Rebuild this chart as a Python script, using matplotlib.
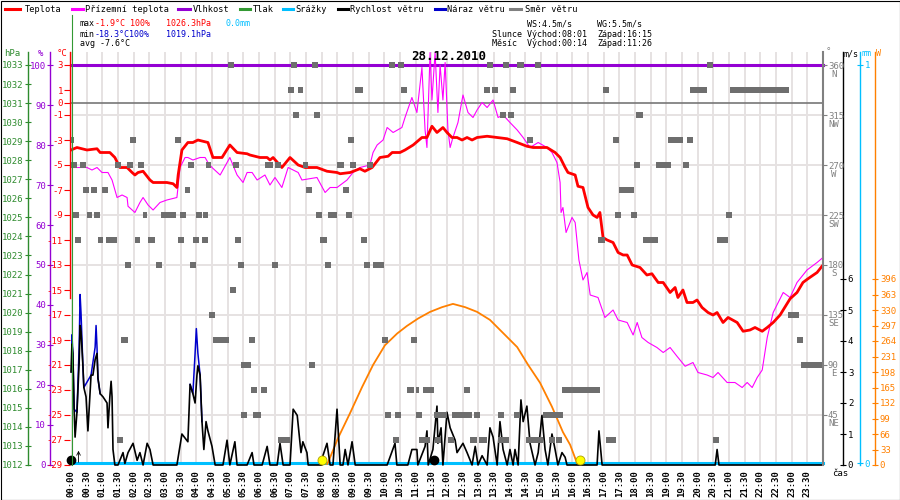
import matplotlib
matplotlib.use("Agg")
import matplotlib.pyplot as plt
import matplotlib.transforms as mtransforms
from matplotlib.lines import Line2D
from matplotlib.patches import Rectangle
import numpy as np

plt.rcParams['font.family'] = ['DejaVu Sans Mono', 'DejaVu Sans']
plt.rcParams['font.size'] = 6.5

# ---- data (time in hours) ----
temp_t = [0.00, 0.19, 0.51, 0.83, 0.93, 1.24, 1.40, 1.56, 1.79, 1.95,
          2.04, 2.14, 2.30, 2.52, 2.62, 3.06, 3.26, 3.38, 3.42, 3.54,
          3.73, 3.89, 4.05, 4.37, 4.53, 4.82, 5.07, 5.30, 5.62, 5.71,
          6.03, 6.26, 6.35, 6.45, 6.73, 6.99, 7.25, 7.47, 7.85, 8.17,
          8.49, 8.59, 8.91, 9.22, 9.38, 9.61, 9.86, 10.12, 10.25, 10.50,
          10.66, 10.92, 11.20, 11.36, 11.52, 11.68, 11.87, 12.00, 12.16, 12.32,
          12.48, 12.64, 12.80, 12.96, 13.28, 13.60, 13.92, 14.24, 14.55, 14.75,
          15.19, 15.45, 15.61, 15.77, 15.86, 16.09, 16.18, 16.34, 16.50, 16.66,
          16.79, 16.88, 16.98, 17.11, 17.30, 17.46, 17.62, 17.75, 17.91, 18.16,
          18.38, 18.54, 18.74, 18.90, 19.12, 19.28, 19.37, 19.53, 19.66, 19.85,
          19.98, 20.14, 20.33, 20.49, 20.62, 20.81, 20.97, 21.26, 21.45, 21.67,
          21.83, 22.06, 22.22, 22.41, 22.63, 22.95, 23.17, 23.36, 23.52, 23.81,
          24.00]
temp_c = [-3.8, -3.6, -3.8, -3.7, -4.0, -4.0, -4.4, -5.2, -5.2, -5.6,
          -5.8, -5.6, -5.5, -6.2, -6.4, -6.4, -6.5, -6.8, -5.8, -3.8,
          -3.2, -3.2, -3.0, -3.2, -4.4, -4.4, -3.4, -4.0, -4.1, -4.2,
          -4.4, -4.4, -4.6, -4.4, -5.2, -4.4, -5.0, -5.2, -5.2, -5.5,
          -5.6, -5.7, -5.6, -5.3, -5.5, -5.2, -4.4, -4.3, -4.0, -4.0,
          -3.8, -3.4, -2.8, -2.8, -1.9, -2.4, -2.0, -2.4, -2.8, -2.8,
          -3.0, -2.8, -3.0, -2.8, -2.7, -2.8, -2.9, -3.2, -3.5, -3.6,
          -3.6, -4.0, -4.4, -5.2, -5.6, -5.8, -6.7, -6.8, -8.4, -9.0,
          -9.2, -8.8, -10.8, -11.0, -11.2, -12.0, -12.2, -12.2, -13.0, -13.2,
          -13.8, -13.7, -14.4, -14.4, -15.2, -14.8, -15.6, -15.0, -16.0, -16.0,
          -15.8, -16.4, -16.8, -17.0, -16.8, -17.6, -17.2, -17.6, -18.3, -18.2,
          -18.0, -18.3, -18.0, -17.6, -17.0, -15.7, -15.2, -14.4, -14.1, -13.6,
          -13.0]

ground_t = [0.00, 0.19, 0.51, 0.67, 0.83, 0.99, 1.09, 1.18, 1.31, 1.47,
            1.63, 1.79, 1.82, 2.04, 2.20, 2.30, 2.46, 2.62, 2.84, 3.06,
            3.38, 3.48, 3.64, 3.73, 3.89, 4.12, 4.28, 4.37, 4.50, 4.76,
            5.07, 5.30, 5.49, 5.62, 5.78, 5.94, 6.19, 6.35, 6.51, 6.73,
            6.93, 7.25, 7.37, 7.85, 8.11, 8.27, 8.49, 8.81, 9.00, 9.22,
            9.54, 9.64, 9.77, 9.96, 10.09, 10.28, 10.56, 10.66, 10.88, 11.04,
            11.20, 11.30, 11.36, 11.46, 11.52, 11.62, 11.71, 11.78, 11.87, 11.94,
            12.03, 12.10, 12.19, 12.35, 12.51, 12.67, 12.83, 12.96, 13.12, 13.28,
            13.47, 13.63, 13.79, 14.01, 14.24, 14.43, 14.65, 14.91, 15.19, 15.35,
            15.51, 15.61, 15.64, 15.70, 15.80, 15.99, 16.09, 16.21, 16.34, 16.47,
            16.57, 16.82, 17.04, 17.30, 17.46, 17.75, 17.94, 18.07, 18.22, 18.42,
            18.70, 18.90, 19.12, 19.34, 19.60, 19.85, 20.01, 20.30, 20.49, 20.65,
            20.94, 21.19, 21.42, 21.58, 21.74, 21.90, 22.06, 22.22, 22.41, 22.73,
            22.95, 23.17, 23.49, 23.81, 24.00]
ground_c = [-5.2, -5.2, -5.2, -5.4, -5.2, -5.6, -5.6, -5.6, -6.2, -7.6,
            -7.4, -7.6, -8.3, -8.8, -8.0, -7.6, -8.2, -8.6, -8.0, -7.8,
            -7.6, -5.2, -4.4, -4.4, -4.6, -4.4, -4.4, -4.8, -5.2, -5.8,
            -4.4, -5.8, -6.4, -5.6, -5.6, -6.2, -5.8, -6.6, -6.0, -6.8,
            -5.2, -5.6, -6.2, -6.0, -7.2, -6.8, -6.8, -6.2, -5.6, -5.2,
            -5.0, -4.0, -3.4, -3.0, -2.0, -2.4, -2.0, -1.2, 0.4, -0.8,
            2.8, -2.2, -3.6, 4.0, 0.2, 4.0, -0.8, 3.0, 0.2, 3.2,
            -2.2, -3.6, -2.8, -1.6, 0.6, -0.8, -1.2, -0.6, 0.0, -0.4,
            0.2, -1.2, -1.0, -1.6, -2.2, -2.8, -3.6, -3.2, -3.6, -4.0,
            -4.8, -6.4, -8.8, -8.4, -10.4, -9.2, -9.6, -12.6, -14.2, -13.6,
            -15.4, -15.6, -17.2, -16.6, -17.4, -17.6, -18.6, -17.6, -18.8, -19.2,
            -19.6, -20.0, -19.6, -20.3, -21.1, -20.8, -21.6, -21.8, -22.0, -21.6,
            -22.4, -22.4, -22.8, -22.4, -22.8, -22.0, -21.4, -18.8, -16.8, -15.2,
            -15.6, -14.4, -13.4, -12.8, -12.4]

humidity_t = [0.0, 24.0]
humidity_pct = [100, 100]
rain_t = [0.0, 24.0]
rain_mm = [0.0, 0.0]

wind_t = [0.00, 0.03, 0.06, 0.10, 0.13, 0.19, 0.22, 0.26, 0.29, 0.32,
          0.38, 0.41, 0.48, 0.54, 0.64, 0.70, 0.77, 0.83, 0.86, 0.93,
          1.02, 1.15, 1.18, 1.24, 1.28, 1.31, 1.34, 1.40, 1.50, 1.66,
          1.72, 1.82, 1.98, 2.11, 2.20, 2.30, 2.43, 2.52, 2.62, 3.38,
          3.54, 3.73, 3.80, 3.89, 3.96, 4.02, 4.05, 4.12, 4.18, 4.24,
          4.31, 4.37, 4.50, 4.60, 4.85, 4.98, 5.07, 5.23, 5.30, 5.62,
          5.78, 5.84, 6.10, 6.26, 6.35, 6.58, 6.67, 6.77, 6.99, 7.09,
          7.22, 7.34, 7.40, 7.53, 7.57, 8.01, 8.04, 8.17, 8.27, 8.36,
          8.49, 8.59, 8.68, 8.75, 8.84, 8.97, 9.07, 10.09, 10.18, 10.34,
          10.40, 10.75, 10.88, 11.04, 11.07, 11.30, 11.36, 11.40, 11.55, 11.68,
          11.71, 11.81, 11.87, 12.00, 12.10, 12.26, 12.32, 12.51, 12.64, 12.80,
          12.90, 12.99, 13.12, 13.28, 13.37, 13.47, 13.60, 13.69, 13.79, 13.92,
          14.01, 14.11, 14.17, 14.27, 14.36, 14.43, 14.55, 14.65, 14.81, 14.91,
          15.03, 15.13, 15.22, 15.35, 15.45, 15.54, 15.67, 15.77, 15.83, 16.79,
          16.85, 16.95, 20.56, 20.62, 20.68, 24.00]
wind_ms = [3.0, 3.9, 3.6, 1.8, 0.9, 1.7, 2.4, 3.3, 4.5, 4.3,
           3.2, 2.5, 2.2, 1.1, 2.9, 2.9, 3.4, 3.6, 2.8, 2.3,
           2.2, 2.0, 1.2, 2.2, 2.7, 2.2, 0.5, 0.0, 0.0, 0.4,
           0.05, 0.4, 0.7, 0.15, 0.4, 0.0, 0.7, 0.5, 0.0, 0.0,
           1.0, 0.75, 2.6, 2.3, 2.0, 2.9, 3.2, 2.9, 1.4, 0.5,
           1.4, 1.1, 0.6, 0.0, 0.0, 0.8, 0.0, 0.75, 0.0, 0.0,
           0.4, 0.0, 0.0, 0.6, 0.0, 0.0, 0.7, 0.0, 0.0, 1.8,
           1.6, 0.4, 0.75, 0.4, 0.0, 0.0, 0.3, 0.7, 0.0, 0.0,
           1.8, 0.0, 0.0, 0.5, 0.0, 0.75, 0.0, 0.0, 0.25, 0.7,
           0.0, 0.0, 0.5, 0.5, 0.0, 0.6, 1.1, 0.0, 0.5, 1.9,
           0.7, 1.2, 0.0, 1.7, 1.2, 0.8, 0.4, 0.7, 0.4, 0.0,
           0.6, 0.0, 0.3, 0.0, 1.2, 0.9, 0.0, 1.4, 0.5, 0.0,
           0.5, 0.0, 0.5, 0.0, 2.1, 1.4, 1.9, 0.7, 0.0, 0.4,
           1.6, 0.5, 0.0, 1.0, 0.5, 0.0, 0.4, 0.25, 0.0, 0.0,
           1.1, 0.0, 0.0, 0.5, 0.0, 0.0]

gust_t = [0.00, 0.03, 0.06, 0.10, 0.19, 0.26, 0.29, 0.32, 0.38, 0.41,
          0.64, 0.77, 0.80, 0.83, 0.86, 0.93, np.nan,
          3.80, 3.89, 3.96, 4.00, 4.05, 4.09, 4.12, 4.18]
gust_ms = [3.0, 4.2, 3.6, 1.8, 1.7, 3.8, 5.5, 4.9, 3.2, 2.5,
           2.9, 3.8, 4.5, 3.8, 2.8, 2.3, np.nan,
           2.6, 2.3, 3.6, 4.4, 3.6, 3.2, 2.9, 1.4]

sun_t = [8.17, 8.52, 8.91, 9.29, 9.64, 10.02, 10.41, 10.72, 11.08, 11.46,
         11.84, 12.19, 12.58, 12.96, 13.37, 13.79, 14.24, 14.59, 14.97, 15.35,
         15.70, 15.93, 16.15, 16.28]
sun_w = [0, 57, 111, 166, 213, 255, 280, 296, 312, 326,
         336, 343, 336, 326, 309, 281, 251, 213, 175, 124,
         70, 43, 4, 0]
sun_events = [8.02, 16.25]
moon_events = [0.0, 11.6]

# wind direction: runs of samples (start h, end h) per direction
dir_levels = [360, 337.5, 315, 292.5, 270, 247.5, 225, 202.5, 180, 157.5,
              135, 112.5, 90, 67.5, 45, 22.5]
dir_runs = [
    [(5.01, 5.20), (7.02, 7.21), (7.69, 7.89), (10.15, 10.34), (10.44, 10.63),
     (13.28, 13.47), (13.79, 13.98), (14.24, 14.46), (14.81, 15.00), (20.30, 20.49)],
    [(6.93, 7.12), (7.25, 7.41), (9.06, 9.32), (10.53, 10.72), (13.18, 13.37),
     (13.44, 13.63), (14.01, 14.20), (16.98, 17.17), (19.76, 20.30), (21.03, 22.92)],
    [(7.09, 7.28), (7.76, 7.95), (13.69, 13.88), (13.95, 14.14), (18.03, 18.26)],
    [(0.0, 0.10), (1.88, 2.07), (3.32, 3.51), (8.84, 9.03), (14.55, 14.75),
     (17.30, 17.49), (19.06, 19.53), (19.66, 19.85)],
    [(0.0, 0.19), (0.29, 0.48), (1.40, 1.60), (1.79, 1.98), (2.14, 2.33),
     (3.73, 3.93), (4.31, 4.47), (5.17, 5.36), (6.19, 6.45), (6.51, 6.70),
     (7.41, 7.56), (8.49, 8.71), (8.91, 9.10), (9.45, 9.64), (17.97, 18.16),
     (18.67, 19.15), (19.53, 19.73)],
    [(0.38, 0.57), (0.64, 0.83), (0.99, 1.18), (3.64, 3.80), (7.50, 7.69),
     (8.68, 8.87), (17.49, 17.97)],
    [(0.06, 0.26), (0.51, 0.67), (0.73, 0.93), (2.30, 2.43), (2.87, 3.35),
     (3.48, 3.67), (3.99, 4.18), (4.21, 4.37), (7.82, 8.01), (8.20, 8.49),
     (8.78, 8.97), (17.36, 17.55), (17.87, 18.07), (20.91, 21.10)],
    [(0.13, 0.32), (0.86, 1.02), (1.12, 1.47), (2.04, 2.20), (2.46, 2.68),
     (3.42, 3.61), (3.89, 4.09), (4.18, 4.37), (5.23, 5.43), (7.95, 8.17),
     (9.26, 9.45), (16.82, 17.04), (18.26, 18.74), (20.62, 20.97)],
    [(1.72, 1.92), (2.71, 2.90), (3.80, 3.99), (5.33, 5.52), (6.42, 6.61),
     (8.11, 8.30), (9.35, 9.54), (9.64, 9.99)],
    [(5.07, 5.27)],
    [(4.40, 4.60), (22.89, 23.24)],
    [(1.60, 1.82), (4.53, 5.04), (5.68, 5.87), (9.93, 10.12), (10.85, 11.04),
     (23.17, 23.36)],
    [(5.43, 5.75), (7.60, 7.79), (23.30, 24.0)],
    [(5.75, 5.94), (6.06, 6.26), (10.72, 10.95), (11.01, 11.11), (11.24, 11.59),
     (12.54, 12.74), (15.67, 16.88)],
    [(5.43, 5.62), (5.81, 6.06), (10.02, 10.21), (10.34, 10.53), (11.01, 11.20),
     (11.59, 12.00), (12.16, 12.80), (12.86, 13.05), (13.63, 13.82), (14.14, 14.33),
     (15.07, 15.70)],
    [(1.47, 1.66), (6.61, 6.99), (10.28, 10.47), (11.11, 11.46), (11.62, 11.81),
     (12.03, 12.22), (12.74, 12.96), (13.02, 13.28), (13.63, 13.98), (14.52, 15.07),
     (15.26, 15.45), (15.48, 15.67), (17.08, 17.40), (20.49, 20.68)],
]
compass = ['N', 'NW', 'W', 'SW', 'S', 'SE', 'E', 'NE']
time_labels = ['%02d:%02d' % (h, m) for h in range(24) for m in (0, 30)]

# ---- colours ----
RED = '#ff0000'
MAGENTA = '#ff00ff'
PURPLE = '#9400d3'
GREEN = '#2e8b2e'
CYAN = '#00bfff'
BLUE = '#0000cc'
GRAY = '#6e6e6e'
ORANGE = '#ff8000'

# ---- layout in pixels ----
W, H = 900, 500
X0, X1, YT, YB = 71, 823, 52, 465
fig = plt.figure(figsize=(9, 5), dpi=100)
rect = [X0 / W, 1 - YB / H, (X1 - X0) / W, (YB - YT) / H]
PLOT_H = YB - YT


def fx(x):
    return x / W


def fy(y):
    return 1 - y / H


def spine_pos(px):
    return (px - X0) / (X1 - X0)


def only_spine(a, side, px, color, lw=1.0):
    for s in a.spines.values():
        s.set_visible(False)
    a.spines[side].set_visible(True)
    a.spines[side].set_position(('axes', spine_pos(px)))
    a.spines[side].set_color(color)
    a.spines[side].set_linewidth(lw)
    a.patch.set_visible(False)


# base axes: grid + time labels
base = fig.add_axes(rect)
base.set_xlim(0, 24)
base.set_ylim(0, 360 + 13 * 0.9)
for s in base.spines.values():
    s.set_visible(False)
base.set_xticks(np.arange(0, 24, 0.5))
base.set_xticklabels(time_labels)
base.set_yticks(np.arange(45, 361, 45))
base.grid(True, color='#e6e2e2', linewidth=1.4)
base.tick_params(axis='x', length=0, pad=4, labelrotation=90, labelsize=6.5)
base.tick_params(axis='y', length=0, labelleft=False, labelright=False)
for lbl in base.get_xticklabels():
    lbl.set_fontweight('bold')

# pressure axis (no data line drawn)
ax_p = base.twinx()
ax_p.set_ylim(1012, 1012 + PLOT_H / 19.05)
only_spine(ax_p, 'left', 28, GREEN)
ax_p.yaxis.set_ticks_position('left')
ax_p.set_yticks(range(1012, 1034))
ax_p.tick_params(axis='y', colors=GREEN, direction='inout', length=4, pad=1)

# humidity
ax_h = base.twinx()
ax_h.set_ylim(0, 100 + 13 / 4.0)
only_spine(ax_h, 'left', 50, PURPLE)
ax_h.yaxis.set_ticks_position('left')
ax_h.set_yticks(range(0, 101, 10))
ax_h.tick_params(axis='y', colors=PURPLE, direction='inout', length=4, pad=1)
ax_h.plot(humidity_t, humidity_pct, color=PURPLE, lw=2.2, clip_on=False)

# temperature
ax_t = base.twinx()
ax_t.set_ylim(-29, 3 + 13 / 12.5)
only_spine(ax_t, 'left', 70, RED)
ax_t.spines['left'].set_bounds(-15.6, 3 + 13 / 12.5)
ax_t.yaxis.set_ticks_position('left')
t_ticks = [3, 1, 0] + list(range(-1, -30, -2))
ax_t.set_yticks(t_ticks)
ax_t.set_yticklabels([str(v) for v in t_ticks])
ax_t.tick_params(axis='y', colors=RED, direction='out', length=4, pad=1)
ax_t.axhline(0, color='#777777', lw=1.2)
ax_t.plot(ground_t, ground_c, color=MAGENTA, lw=0.8)
ax_t.plot(temp_t, temp_c, color=RED, lw=2.0)

# precipitation
ax_mm = base.twinx()
ax_mm.set_ylim(-0.004, 1 + 13 / 400)
only_spine(ax_mm, 'right', 860, CYAN)
ax_mm.set_yticks([0, 1])
ax_mm.tick_params(axis='y', colors=CYAN, direction='inout', length=5, pad=1)
ax_mm.plot(rain_t, rain_mm, color=CYAN, lw=2.2, clip_on=False)

# solar radiation / sun path
ax_s = base.twinx()
ax_s.set_ylim(0, PLOT_H / 15.5 * 33)
only_spine(ax_s, 'right', 875, ORANGE)
ax_s.set_yticks(range(0, 397, 33))
ax_s.tick_params(axis='y', colors=ORANGE, direction='inout', length=5, pad=1)
ax_s.plot(sun_t, sun_w, color=ORANGE, lw=1.3)

# wind speed and gusts
ax_w = base.twinx()
ax_w.set_ylim(0, PLOT_H / 31.0)
only_spine(ax_w, 'right', 843, 'black')
ax_w.set_yticks(range(0, 7))
ax_w.tick_params(axis='y', colors='black', direction='inout', length=5, pad=1)
ax_w.plot(gust_t, gust_ms, color=BLUE, lw=1.1)
ax_w.plot(wind_t, wind_ms, color='black', lw=1.2, clip_on=False)
ax_w.plot(sun_events, [0.15, 0.15], 'o', ms=6.5, mfc='#ffff00', mec='#b0a000',
          mew=0.6, clip_on=False)
ax_w.plot(moon_events, [0.15, 0.15], 'o', ms=6, color='black', clip_on=False)
ax_w.annotate('', xy=(0.24, 0.55), xytext=(0.24, 0.0),
              arrowprops=dict(arrowstyle='->', lw=0.6, color='black'))

# wind direction samples (on top)
ax_d = base.twinx()
ax_d.set_ylim(0, 360 + 13 * 0.9)
only_spine(ax_d, 'right', 823, '#808080', lw=1.5)
ax_d.set_yticks(np.arange(360, 44, -45))
ax_d.set_yticklabels([str(int(v)) for v in np.arange(360, 44, -45)])
ax_d.tick_params(axis='y', colors='#808080', direction='out', length=3, pad=0.5)
for deg, runs in zip(dir_levels, dir_runs):
    starts = [a for a, b in runs]
    widths = [b - a for a, b in runs]
    ax_d.barh([deg] * len(runs), widths, left=starts, height=5.6, color=GRAY,
              linewidth=0)
tr = mtransforms.offset_copy(
    mtransforms.blended_transform_factory(ax_d.transAxes, ax_d.transData),
    fig=fig, x=0, y=-9, units='dots')
for deg, name in zip(np.arange(360, 44, -45), compass):
    ax_d.text(spine_pos(834), deg, name, transform=tr, ha='center', va='center',
              color='#808080', fontsize=6.5)

base.set_xlim(0, 24)

# ---- header: legend ----
legend_items = [(5, 20, 25, 'Teplota', RED), (72, 83, 85, 'Přízemní teplota', MAGENTA),
                (178, 190, 193, 'Vlhkost', PURPLE), (240, 250, 253, 'Tlak', '#339933'),
                (283, 293, 295, 'Srážky', CYAN), (338, 348, 350, 'Rychlost větru', 'black'),
                (435, 445, 447, 'Náraz větru', BLUE), (510, 521, 525, 'Směr větru', '#808080')]
for x_a, x_b, x_txt, name, col in legend_items:
    fig.add_artist(Line2D([fx(x_a), fx(x_b)], [fy(9), fy(9)], color=col, lw=2.2))
    fig.text(fx(x_txt), fy(9), name, color='black', fontsize=6.2, va='center')

# stats
fig.text(fx(80), fy(24), 'max', fontsize=6, va='center')
fig.text(fx(95), fy(24), '-1.9°C 100%', color=RED, fontsize=6, va='center')
fig.text(fx(166), fy(24), '1026.3hPa', color=RED, fontsize=6, va='center')
fig.text(fx(226), fy(24), '0.0mm', color=CYAN, fontsize=6, va='center')
fig.text(fx(80), fy(34), 'min', fontsize=6, va='center')
fig.text(fx(95), fy(34), '-18.3°C100%', color=BLUE, fontsize=6, va='center')
fig.text(fx(166), fy(34), '1019.1hPa', color=BLUE, fontsize=6, va='center')
fig.text(fx(80), fy(44), 'avg -7.6°C', fontsize=6, va='center')

fig.text(fx(527), fy(24), 'WS:4.5m/s', fontsize=6, va='center')
fig.text(fx(597), fy(24), 'WG:5.5m/s', fontsize=6, va='center')
fig.text(fx(492), fy(34), 'Slunce Východ:08:01', fontsize=6, va='center')
fig.text(fx(597), fy(34), 'Západ:16:15', fontsize=6, va='center')
fig.text(fx(492), fy(44), 'Měsíc  Východ:00:14', fontsize=6, va='center')
fig.text(fx(597), fy(44), 'Západ:11:26', fontsize=6, va='center')

fig.text(fx(449), fy(57), '28.12.2010', ha='center', va='center',
         fontsize=9, fontweight='bold')

# unit labels
fig.text(fx(12), fy(53), 'hPa', color=GREEN, ha='center', va='center')
fig.text(fx(41), fy(53), '%', color=PURPLE, ha='center', va='center')
fig.text(fx(62), fy(53), '°C', color=RED, ha='center', va='center')
fig.text(fx(828), fy(52), '°', color='#808080', ha='center', va='center')
fig.text(fx(851), fy(54), 'm/s', color='black', ha='center', va='center', fontsize=6)
fig.text(fx(867), fy(54), 'mm', color=CYAN, ha='center', va='center', fontsize=6)
fig.text(fx(879), fy(54), 'W', color=ORANGE, ha='center', va='center', fontsize=6)
fig.text(fx(840), fy(474), 'čas', ha='center', va='center')

# green line along the plot start, frame
fig.add_artist(Line2D([fx(71.5), fx(71.5)], [fy(15), fy(465)], color='#339933', lw=0.8))
fig.add_artist(Rectangle((0.5 / W, 0.5 / H), 1 - 1.0 / W, 1 - 1.0 / H,
                         fill=False, edgecolor='black', lw=0.8,
                         transform=fig.transFigure))

fig.savefig('out.png', dpi=100)
